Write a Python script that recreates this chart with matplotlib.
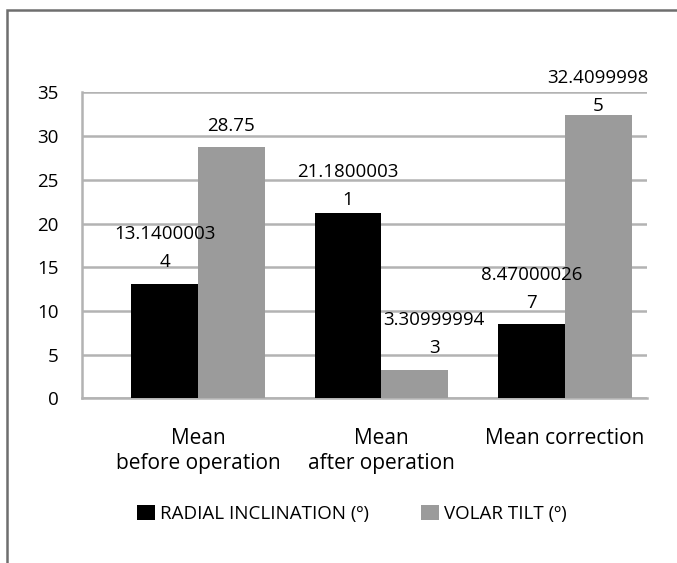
"""Radial inclination and volar tilt before/after operation."""

import matplotlib.pyplot as plt
from matplotlib.patches import Patch, Rectangle

categories = ["Mean\nbefore operation", "Mean\nafter operation", "Mean correction"]
radial_inclination = [13.14000034, 21.18000031, 8.470000267]
volar_tilt = [28.75, 3.309999943, 32.40999985]
series_names = ["RADIAL INCLINATION (º)", "VOLAR TILT (º)"]
y_ticks = [0, 5, 10, 15, 20, 25, 30, 35]

# label nudges in points (Excel moved a few to avoid overlaps)
label_lift = [[9, 3, 9], [9, 9, 0]]
label_dx = [[0, 0, 0], [0, 14, 0]]


def wrap_label(v):
    s = str(v)
    return s if len(s) <= 10 else s[:10] + "\n" + s[10:]


def main() -> None:
    plt.rcParams["font.family"] = ["Open Sans", "DejaVu Sans"]
    fig = plt.figure(figsize=(6.77, 5.63), dpi=100)
    ax = fig.add_axes([0.1211, 0.2922, 0.8346, 0.5438])

    grid_col = "#b3b3b3"
    width = 0.363
    x = list(range(len(categories)))
    colors = ["#000000", "#9b9b9b"]

    for i, (vals, col) in enumerate(zip([radial_inclination, volar_tilt], colors)):
        pos = [xi + (i - 0.5) * width for xi in x]
        ax.bar(pos, vals, width=width, color=col, zorder=3)
        for p, v, lift, dx in zip(pos, vals, label_lift[i], label_dx[i]):
            ax.annotate(wrap_label(v), (p, v), xytext=(dx, lift), textcoords="offset points",
                        ha="center", va="bottom", fontsize=13.5, linespacing=1.7, zorder=6)

    ax.set_ylim(0, 35)
    ax.set_xlim(-0.632, 2.447)
    ax.set_yticks(y_ticks)
    ax.set_xticks(x)
    ax.set_xticklabels(categories, fontsize=15, linespacing=1.3, va="top")
    ax.tick_params(axis="y", length=0, pad=17, labelsize=13.5)
    ax.tick_params(axis="x", length=0, pad=21)
    ax.yaxis.grid(True, color=grid_col, linewidth=1.8, zorder=0)
    for side in ["top", "right"]:
        ax.spines[side].set_visible(False)
    for side in ["left", "bottom"]:
        ax.spines[side].set_color(grid_col)
        ax.spines[side].set_linewidth(1.8)

    handles = [Patch(facecolor=c, edgecolor="none") for c in colors]
    fig.legend(handles, series_names, loc="center", bbox_to_anchor=(0.52, 0.087), ncol=2,
               frameon=False, fontsize=13.5, handlelength=0.95, handleheight=0.9,
               handletextpad=0.27, columnspacing=2.8)

    fig.patches.append(Rectangle((7 / 677, -0.05), 1.2, 1 - 10 / 563 + 0.05, transform=fig.transFigure,
                                 fill=False, edgecolor="#6e6e6e", linewidth=1.8))

    fig.savefig("out.png", dpi=100)


if __name__ == "__main__":
    main()
